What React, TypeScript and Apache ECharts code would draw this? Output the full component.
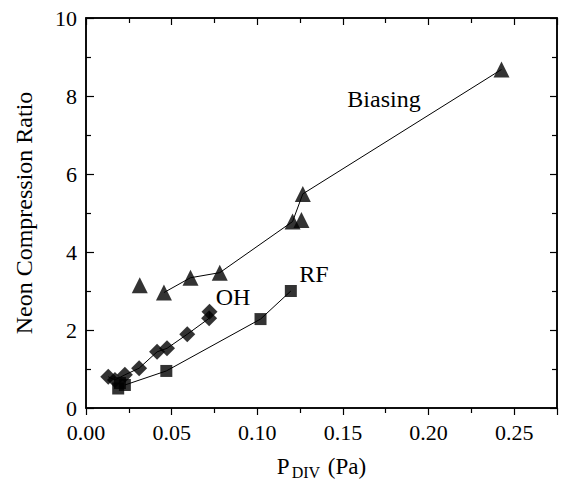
import React, { useEffect, useRef } from "react";
import * as echarts from "echarts";

const biasingX = [0.0314, 0.0455, 0.061, 0.0781, 0.1206, 0.1258, 0.1266, 0.2426];
const biasingY = [3.15, 2.96, 3.34, 3.47, 4.78, 4.82, 5.49, 8.68];
const biasingLineIdx = [1, 2, 3, 4, 6, 7];

const ohX = [0.013, 0.0169, 0.0227, 0.031, 0.0415, 0.0473, 0.0591, 0.0719, 0.0721];
const ohY = [0.8, 0.72, 0.85, 1.02, 1.44, 1.53, 1.89, 2.3, 2.47];

const rfX = [0.0188, 0.0198, 0.0227, 0.0469, 0.1019, 0.1196];
const rfY = [0.5, 0.64, 0.59, 0.95, 2.28, 3.0];
const rfLineIdx = [2, 3, 4, 5];

const xTicks = [0, 0.05, 0.1, 0.15, 0.2, 0.25];
const yTicks = [0, 2, 4, 6, 8, 10];

const FONT = "'Liberation Serif', 'Times New Roman', serif";

export default function App() {
  const ref = useRef<HTMLDivElement>(null);
  useEffect(() => {
    document.body.style.margin = "0";
    const chart = echarts.init(ref.current!, undefined, { renderer: "svg" });
    const pts = (xs: number[], ys: number[]) => xs.map((x, i) => [x, ys[i]]);
    const sub = (xs: number[], ys: number[], idx: number[]) => idx.map((i) => [xs[i], ys[i]]);
    const mkLine = () => ({ show: true, onZero: false, lineStyle: { color: "#000", width: 1.5 } });
    const tickStyle = () => ({ color: "#000", width: 1.2 });
    const hiddenLabel = () => ({ show: true, color: "rgba(0,0,0,0)", fontSize: 1, formatter: () => "" });
    chart.setOption({
      animation: false,
      backgroundColor: "#fff",
      grid: {
        left: 86,
        right: 5,
        top: 18,
        bottom: 73,
        containLabel: false,
        outerBoundsMode: "none",
        show: true,
        borderColor: "#000",
        borderWidth: 1.5,
        backgroundColor: "transparent",
      },
      xAxis: [
        {
          type: "value",
          position: "bottom",
          min: 0,
          max: 0.275,
          interval: 0.05,
          axisLine: mkLine(),
          axisTick: { show: true, inside: false, length: 7, lineStyle: tickStyle() },
          minorTick: { show: true, splitNumber: 2, length: 5, lineStyle: tickStyle() },
          splitLine: { show: false },
          axisLabel: {
            color: "#000",
            fontFamily: FONT,
            fontSize: 22,
            margin: 13,
            formatter: (v: number) => (xTicks.includes(Math.round(v * 100) / 100) ? v.toFixed(2) : ""),
          },
          name: "{p|P}{s|DIV}{p| (Pa)}",
          nameLocation: "middle",
          nameGap: 44,
          nameTextStyle: {
            fontFamily: FONT,
            fontSize: 23,
            color: "#000",
            rich: {
              p: { fontFamily: FONT, fontSize: 23, color: "#000" },
              s: { fontFamily: FONT, fontSize: 16, color: "#000", padding: [12, 2, 0, 2] },
            },
          },
        },
        {
          type: "value",
          position: "top",
          min: 0,
          max: 0.275,
          interval: 0.05,
          axisLine: mkLine(),
          axisTick: { show: true, inside: true, length: 7, lineStyle: tickStyle() },
          minorTick: { show: true, splitNumber: 2, length: 5, lineStyle: tickStyle() },
          splitLine: { show: false },
          axisLabel: hiddenLabel(),
        },
      ],
      yAxis: [
        {
          type: "value",
          position: "left",
          min: 0,
          max: 10,
          interval: 2,
          axisLine: mkLine(),
          axisTick: { show: true, inside: true, length: 8, lineStyle: tickStyle() },
          minorTick: { show: true, splitNumber: 2, length: 5, lineStyle: tickStyle() },
          splitLine: { show: false },
          axisLabel: {
            color: "#000",
            fontFamily: FONT,
            fontSize: 22,
            margin: 9,
            formatter: (v: number) => (yTicks.includes(v) ? String(v) : ""),
          },
          name: "Neon Compression Ratio",
          nameLocation: "middle",
          nameGap: 50,
          nameTextStyle: { fontFamily: FONT, fontSize: 24, color: "#000" },
        },
        {
          type: "value",
          position: "right",
          min: 0,
          max: 10,
          interval: 2,
          axisLine: mkLine(),
          axisTick: { show: true, inside: true, length: 7, lineStyle: tickStyle() },
          minorTick: { show: true, splitNumber: 2, length: 5, lineStyle: tickStyle() },
          splitLine: { show: false },
          axisLabel: hiddenLabel(),
        },
      ],
      series: [
        {
          type: "line",
          data: sub(biasingX, biasingY, biasingLineIdx),
          showSymbol: false,
          symbol: "none",
          lineStyle: { color: "#000", width: 1 },
          z: 1,
        },
        {
          type: "line",
          xAxisIndex: 1,
          yAxisIndex: 1,
          data: pts(ohX, ohY),
          showSymbol: false,
          symbol: "none",
          lineStyle: { color: "#000", width: 1 },
          z: 1,
        },
        {
          type: "line",
          data: sub(rfX, rfY, rfLineIdx),
          showSymbol: false,
          symbol: "none",
          lineStyle: { color: "#000", width: 1 },
          z: 1,
        },
        {
          type: "scatter",
          data: pts(biasingX, biasingY),
          symbol: "triangle",
          symbolSize: 16,
          itemStyle: { color: "#000" },
          z: 2,
        },
        {
          type: "scatter",
          data: pts(ohX, ohY),
          symbol: "diamond",
          symbolSize: 16,
          itemStyle: { color: "#000" },
          z: 2,
        },
        {
          type: "scatter",
          data: pts(rfX, rfY),
          symbol: "rect",
          symbolSize: 12,
          itemStyle: { color: "#000" },
          z: 2,
        },
      ],
      graphic: [
        { type: "text", x: 384, y: 99, style: { text: "Biasing", fontFamily: FONT, fontSize: 24, fill: "#000", align: "center", verticalAlign: "middle" } },
        { type: "text", x: 233, y: 297, style: { text: "OH", fontFamily: FONT, fontSize: 24, fill: "#000", align: "center", verticalAlign: "middle" } },
        { type: "text", x: 314, y: 274, style: { text: "RF", fontFamily: FONT, fontSize: 24, fill: "#000", align: "center", verticalAlign: "middle" } },
      ],
    });
    return () => chart.dispose();
  }, []);
  return <div ref={ref} style={{ width: 562, height: 481 }} />;
}
